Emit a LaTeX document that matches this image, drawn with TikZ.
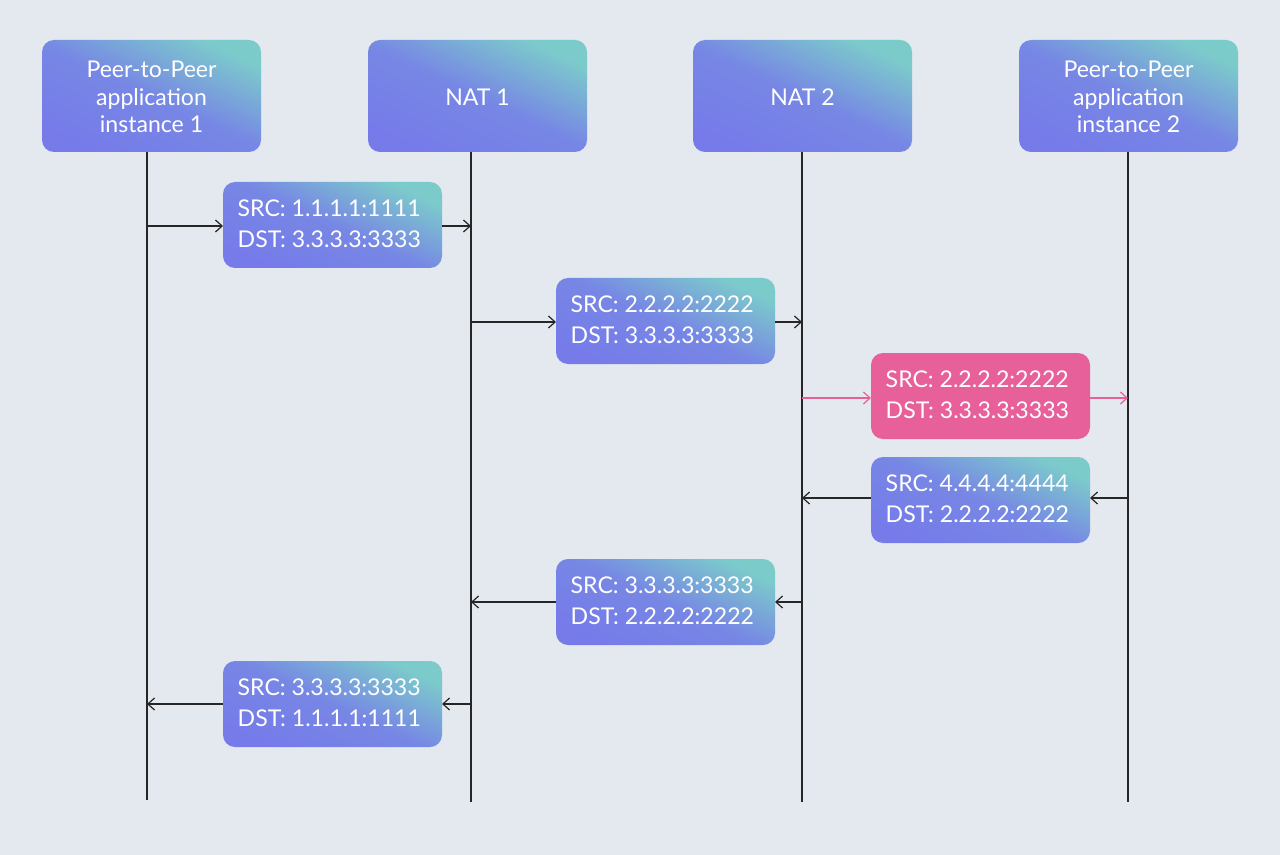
\documentclass[tikz,border=0pt]{standalone}
\usepackage{fontspec}
\setmainfont{Lato}
\usetikzlibrary{arrows.meta}
\definecolor{bg}{HTML}{E4E8EF}
\definecolor{teal}{HTML}{7CCBCB}
\definecolor{ind}{HTML}{767BE9}
\definecolor{pink}{HTML}{E8609A}
\begin{document}
\begin{tikzpicture}[x=0.75pt,y=-0.75pt,
  box/.style={rounded corners=9pt,shading=axis,top color=teal,bottom color=ind,middle color=ind!85!teal,shading angle=-25},
  txt/.style={text=white,font=\fontsize{17.3pt}{20.5pt}\selectfont,align=center},
  mtxt/.style={text=white,font=\fontsize{17.3pt}{23.5pt}\selectfont,align=left,anchor=west},
  life/.style={line width=0.9pt,black!85},
  msg/.style={line width=0.9pt,black!85,-{Straight Barb[length=5pt,width=9pt]}}]
\fill[bg] (0,0) rectangle (1280,855);
\useasboundingbox (0,0) rectangle (1280,855);
% headers
\foreach \n/\x/\t in {h1/42/{Peer-to-Peer\\application\\instance 1},h2/368/{NAT 1},h3/693/{NAT 2},h4/1019/{Peer-to-Peer\\application\\instance 2}}{
  \path[box] (\x,40) rectangle ++(219,112);
  \node[txt] (\n) at (\x+109.5,97) {\t};
}
% lifelines
\coordinate (t1) at (147,152); \coordinate (b1) at (147,800);
\coordinate (t2) at (471,152); \coordinate (b2) at (471,802);
\coordinate (t3) at (802,152); \coordinate (b3) at (802,802);
\coordinate (t4) at (1128,152); \coordinate (b4) at (1128,802);
\foreach \i in {1,...,4}{\draw[life] (t\i) -- (b\i);}
% messages
\newcommand\msgbox[5]{% name, x, y, src, dst
  \path[box] (#2,#3) rectangle ++(219,86);
  \node[mtxt] (#1) at (#2+10,#3+42) {SRC: #4\\DST: #5};
  \coordinate (#1l) at (#2,#3+44); \coordinate (#1r) at (#2+219,#3+44);}
\msgbox{m1}{223}{182}{1.1.1.1:1111}{3.3.3.3:3333}
\msgbox{m2}{556}{278}{2.2.2.2:2222}{3.3.3.3:3333}
\path[box,shading=axis,top color=pink,bottom color=pink,middle color=pink] (871,353) rectangle ++(219,86);
\node[mtxt] (m3) at (881,395) {SRC: 2.2.2.2:2222\\DST: 3.3.3.3:3333};
\coordinate (m3l) at (871,398); \coordinate (m3r) at (1090,398);
\msgbox{m4}{871}{457}{4.4.4.4:4444}{2.2.2.2:2222}
\msgbox{m5}{556}{559}{3.3.3.3:3333}{2.2.2.2:2222}
\msgbox{m6}{223}{661}{3.3.3.3:3333}{1.1.1.1:1111}
\coordinate (a1) at (147,226); \coordinate (a2) at (471,226);
\draw[msg] (a1) -- (m1l); \draw[msg] (m1r) -- (a2);
\coordinate (c1) at (471,322); \coordinate (c2) at (802,322);
\draw[msg] (c1) -- (m2l); \draw[msg] (m2r) -- (c2);
\coordinate (d1) at (802,398); \coordinate (d2) at (1128,398);
\draw[msg,pink] (d1) -- (m3l); \draw[msg,pink] (m3r) -- (d2);
\coordinate (e1) at (1128,498); \coordinate (e2) at (802,498);
\draw[msg] (e1) -- (m4r|-e1); \draw[msg] (m4l|-e1) -- (e2);
\coordinate (f1) at (802,602); \coordinate (f2) at (471,602);
\draw[msg] (f1) -- (m5r|-f1); \draw[msg] (m5l|-f1) -- (f2);
\coordinate (g1) at (471,704); \coordinate (g2) at (147,704);
\draw[msg] (g1) -- (m6r|-g1); \draw[msg] (m6l|-g1) -- (g2);
\end{tikzpicture}
\end{document}
